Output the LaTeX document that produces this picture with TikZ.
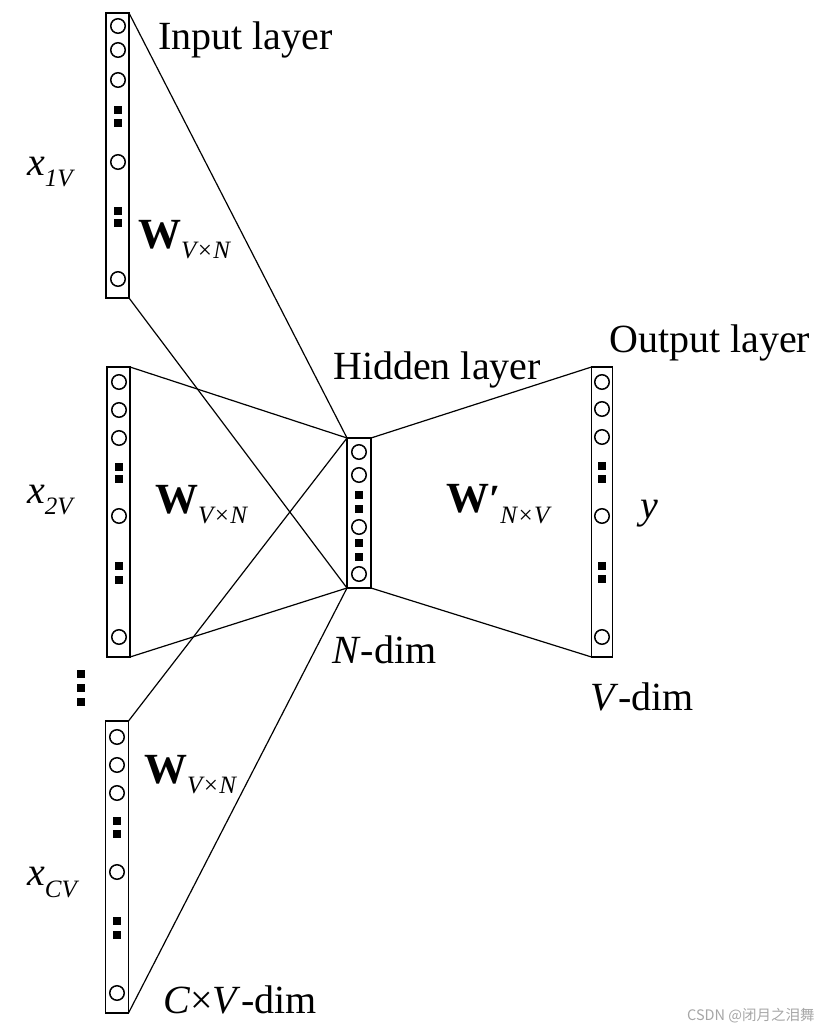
\documentclass[tikz,border=0pt]{standalone}
\usepackage{fontspec}
\setmainfont{Liberation Serif}
\newfontfamily\cjkfont{Noto Sans CJK SC}
\newcommand{\bigtxt}{\fontsize{40}{44}\selectfont}
\newcommand{\subtxt}{\fontsize{25}{28}\selectfont\itshape}
\newcommand{\bigW}{{\fontsize{43}{46}\selectfont\bfseries W}}
\begin{document}
\begin{tikzpicture}[x=1pt,y=-1pt,
  layerbox/.style={draw, line width=1.8pt, inner sep=0pt, outer sep=0pt},
  unit/.style={circle, draw, line width=1.5pt, minimum size=14.5pt, inner sep=0pt},
  dotsq/.style={fill, minimum size=7.5pt, inner sep=0pt},
  conn/.style={line width=1.2pt},
  lbl/.style={inner sep=0pt, anchor=base west, font=\bigtxt},
  wmark/.style={inner sep=0pt, anchor=base west, font=\fontsize{14.5}{16}\selectfont\cjkfont, text=black!35}
]
\useasboundingbox (0,0) rectangle (830,1033);

% ---- input layer 1 ----
\node[layerbox, minimum width=23pt, minimum height=285pt] (in1) at (117.5,155.5) {};
\foreach \y [count=\i] in {26,50,80,162,279} \node[unit] (in1u\i) at (118,\y) {};
\foreach \y [count=\i] in {110,123,211,223} \node[dotsq] (in1s\i) at (118,\y) {};

% ---- input layer 2 ----
\node[layerbox, minimum width=23pt, minimum height=290pt] (in2) at (118.5,512) {};
\foreach \y [count=\i] in {382,410,438,516,637} \node[unit] (in2u\i) at (119,\y) {};
\foreach \y [count=\i] in {467,479,566,580} \node[dotsq] (in2s\i) at (119,\y) {};

% ---- vertical dots ----
\foreach \y [count=\i] in {674,688,702} \node[dotsq, minimum size=8pt] (vd\i) at (81,\y) {};

% ---- input layer C ----
\node[layerbox, minimum width=23pt, minimum height=292pt] (inC) at (117,867) {};
\foreach \y [count=\i] in {737,765,793,872,993} \node[unit] (inCu\i) at (117,\y) {};
\foreach \y [count=\i] in {821,834,921,935} \node[dotsq] (inCs\i) at (117,\y) {};

% ---- hidden layer ----
\node[layerbox, minimum width=24pt, minimum height=150pt] (hid) at (359,513) {};
\foreach \y [count=\i] in {452,475,527,574} \node[unit] (hidu\i) at (359,\y) {};
\foreach \y [count=\i] in {495,509,543,557} \node[dotsq] (hids\i) at (359,\y) {};

% ---- output layer ----
\node[layerbox, minimum width=21pt, minimum height=290pt] (out) at (602,512) {};
\foreach \y [count=\i] in {382,409,437,516,637} \node[unit] (outu\i) at (602,\y) {};
\foreach \y [count=\i] in {466,479,566,579} \node[dotsq] (outs\i) at (602,\y) {};

% ---- connectors ----
\foreach \b in {in1,in2,inC} {
  \draw[conn] (\b.north east) -- (hid.north west);
  \draw[conn] (\b.south east) -- (hid.south west);
}
\draw[conn] (hid.north east) -- (out.north west);
\draw[conn] (hid.south east) -- (out.south west);

% ---- labels ----
\node[lbl] (inlbl) at (158,50) {Input layer};
\node[lbl] (hidlbl) at (333,379) {Hidden layer};
\node[lbl] (outlbl) at (609,352) {Output layer};
\node[lbl] (ndim) at (332,663) {\textit{N}-dim};
\node[lbl] (vdim) at (590,710) {\textit{V}-dim};
\node[lbl] (cvdim) at (163,1013) {\textit{C}×\textit{V}-dim};

\node[lbl] (x1) at (27,175) {\textit{x}\raisebox{-11pt}{\subtxt 1V}};
\node[lbl] (x2) at (27,503) {\textit{x}\raisebox{-11pt}{\subtxt 2V}};
\node[lbl] (xC) at (27,885) {\textit{x}\raisebox{-12pt}{\subtxt CV}};

\node[lbl] (w1) at (138,248) {\bigW\raisebox{-10pt}{\subtxt V×N}};
\node[lbl] (w2) at (155,513) {\bigW\raisebox{-10pt}{\subtxt V×N}};
\node[lbl] (wC) at (144,783) {\bigW\raisebox{-10pt}{\subtxt V×N}};
\node[lbl] (wout) at (446,512) {\bigW\textbf{′}\raisebox{-11pt}{\subtxt N×V}};
\node[lbl] (ylbl) at (640,518) {\textit{y}};

\node[wmark] (wm) at (687,1020) {CSDN @闭月之泪舞};
\end{tikzpicture}
\end{document}
